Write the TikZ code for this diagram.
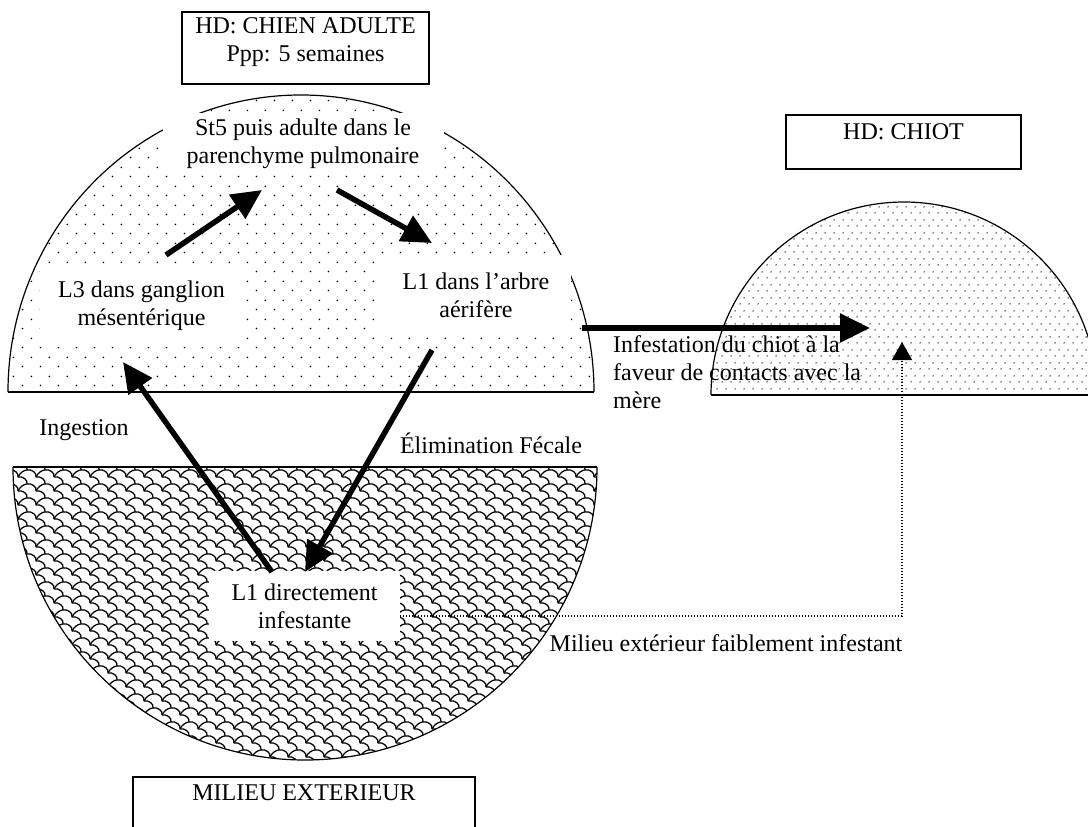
\documentclass[tikz,border=0pt]{standalone}
\usepackage{fontspec}
\setmainfont{Liberation Serif}
\usetikzlibrary{arrows.meta,patterns}

% sparse staggered dots (adult dog)
\pgfdeclarepatternformonly{sparsedots}{\pgfpoint{0pt}{0pt}}{\pgfpoint{18.4pt}{19pt}}{\pgfpoint{18.4pt}{19pt}}{%
  \pgfpathcircle{\pgfpoint{4.6pt}{4.75pt}}{0.95pt}%
  \pgfpathcircle{\pgfpoint{13.8pt}{14.25pt}}{0.95pt}%
  \pgfusepath{fill}}
% denser staggered dots (puppy)
\pgfdeclarepatternformonly{densedots}{\pgfpoint{0pt}{0pt}}{\pgfpoint{9pt}{13pt}}{\pgfpoint{9pt}{13pt}}{%
  \pgfpathcircle{\pgfpoint{2.25pt}{3.25pt}}{0.8pt}%
  \pgfpathcircle{\pgfpoint{6.75pt}{9.75pt}}{0.8pt}%
  \pgfusepath{fill}}
% shingle texture (outside environment)
\pgfdeclarepatternformonly{shingles}{\pgfpoint{-2pt}{-2pt}}{\pgfpoint{20pt}{16pt}}{\pgfpoint{18pt}{14pt}}{%
  \pgfsetlinewidth{1.25pt}%
  \pgfpathmoveto{\pgfpoint{0pt}{14pt}}%
  \pgfpathcurveto{\pgfpoint{5pt}{15pt}}{\pgfpoint{10pt}{11pt}}{\pgfpoint{9pt}{7pt}}%
  \pgfpathcurveto{\pgfpoint{14pt}{8pt}}{\pgfpoint{19pt}{4pt}}{\pgfpoint{18pt}{0pt}}%
  \pgfpathmoveto{\pgfpoint{9pt}{7pt}}%
  \pgfpathcurveto{\pgfpoint{6pt}{7pt}}{\pgfpoint{2pt}{4pt}}{\pgfpoint{0pt}{0pt}}%
  \pgfusepath{stroke}}

\begin{document}
\begin{tikzpicture}[x=1pt,y=1pt,
  font=\fontsize{24}{28}\selectfont,
  frame/.style={draw,line width=1.5pt,fill=white,inner sep=0pt},
  blank/.style={fill=white,inner sep=0pt,align=center},
  txt/.style={inner sep=0pt,align=center},
  bigarrow/.style={line width=5.5pt,-{Triangle[length=30pt,width=28pt]}},
  dotline/.style={line width=1.2pt,dash pattern=on 1.2pt off 1.8pt,-{Triangle[length=18pt,width=20pt]}},
  rim/.style={line width=1.2pt},
  base/.style={line width=1.5pt},
]
\useasboundingbox (0,0) rectangle (1088,-827);
\clip (0,0) rectangle (1088,-827);

% adult dog: upper half-disc
\path[pattern=sparsedots] (8,-392) arc[start angle=180,end angle=0,x radius=293,y radius=297] -- cycle;
\draw[rim] (8,-392) arc[start angle=180,end angle=0,x radius=293,y radius=297];
\draw[base] (8,-392) -- (594,-392);

% outside environment: lower half-disc
\path[pattern=shingles] (13,-467) arc[start angle=180,end angle=360,x radius=292,y radius=293] -- cycle;
\draw[rim] (13,-467) arc[start angle=180,end angle=360,x radius=292,y radius=293];
\draw[base] (13,-467) -- (597,-467);

% puppy: right half-disc
\path[pattern=densedots] (711,-395) arc[start angle=180,end angle=0,radius=193] -- cycle;
\draw[rim] (711,-395) arc[start angle=180,end angle=0,radius=193];
\draw[base] (711,-395) -- (1097,-395);

% title boxes
\node[frame,minimum width=247,minimum height=72] (hdbox) at (305.5,-48) {};
\node[txt] (hd) at (305.5,-42) {HD: CHIEN ADULTE\\Ppp: 5 semaines};
\node[frame,minimum width=235,minimum height=54] (chiotbox) at (903.5,-142) {};
\node[txt] (chiot) at (903.5,-132) {HD: CHIOT};
\node[frame,minimum width=342,minimum height=73] (mebox) at (304,-813.5) {};
\node[txt] (me) at (304,-793) {MILIEU EXTERIEUR};

% stages
\node[blank,minimum width=281,minimum height=62] (st5) at (303,-144) {St5 puis adulte dans le\\parenchyme pulmonaire};
\node[blank,minimum width=203,minimum height=82] (l3) at (141.5,-306) {L3 dans ganglion\\mésentérique};
\node[blank,minimum width=190,minimum height=80] (l1a) at (476,-295) {L1 dans l’arbre\\aérifère};
\node[blank,minimum width=191,minimum height=70] (l1d) at (304.5,-606) {L1 directement\\infestante};

% labels
\node[txt] (ing) at (84,-430) {Ingestion};
\node[txt] (elim) at (491,-443) {Élimination Fécale};
\node[txt,anchor=west,align=left] (inf) at (613,-372) {Infestation du chiot à la\\faveur de contacts avec la\\mère};
\node[txt] (faible) at (726,-643) {Milieu extérieur faiblement infestant};

% arrow ends
\coordinate (a1s) at (166,-255);
\coordinate (a1e) at (262,-190);
\coordinate (a2s) at (337,-190);
\coordinate (a2e) at (432,-243);
\coordinate (a3s) at (272,-572);
\coordinate (a3e) at (123,-362);
\coordinate (a4s) at (432,-350);
\coordinate (a4e) at (305,-572);
\coordinate (a5s) at (582,-328);
\coordinate (a5e) at (870,-328);
\coordinate (d0) at (l1d.east |- 0,-616);
\coordinate (d1) at (902,-342);

\draw[bigarrow] (a1s) -- (a1e);
\draw[bigarrow] (a2s) -- (a2e);
\draw[bigarrow] (a3s) -- (a3e);
\draw[bigarrow] (a4s) -- (a4e);
\draw[bigarrow] (a5s) -- (a5e);
\draw[dotline] (d0) -| (d1);
\end{tikzpicture}
\end{document}
